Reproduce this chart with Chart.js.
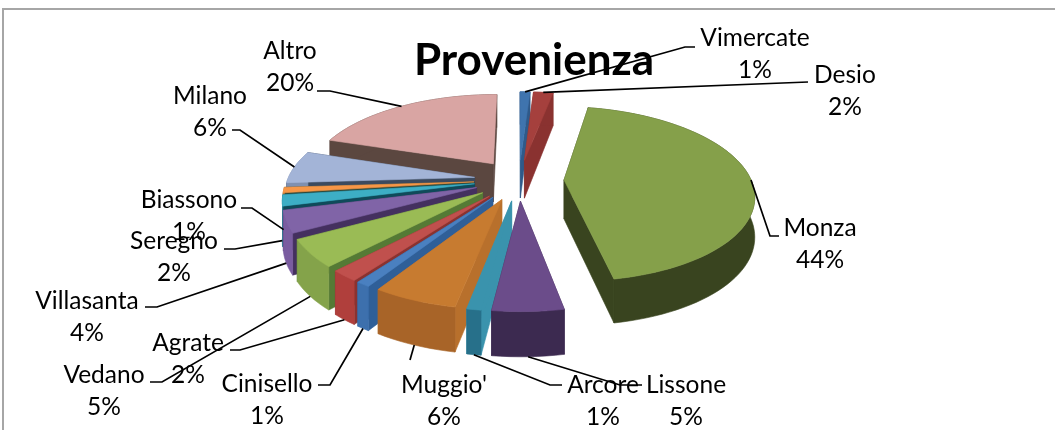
<!DOCTYPE html>
<html>
<head>
<meta charset="utf-8">
<style>
    html, body { margin: 0; padding: 0; background: #fff; overflow: hidden; }
    #wrap { position: relative; width: 1055px; height: 430px; }
</style>
<script src="https://cdn.jsdelivr.net/npm/chart.js@4"></script>
</head>
<body>
<div id="wrap"><canvas id="chart"></canvas></div>
<script>
const categories = ["Vimercate", "Desio", "Monza", "Lissone", "Arcore", "Muggio'", "Cinisello", "Agrate", "Vedano", "Villasanta", "Seregno", "Biassono", "Milano", "Altro"];
const percentages = [1, 2, 44, 5, 1, 6, 1, 2, 5, 4, 2, 1, 6, 20];

// slice colours: top face, outer wall, cut wall
const topColors = ["#3F74AE", "#A5403D", "#85A04A", "#6B4C8A", "#3A93AD", "#C77B30", "#4A80C0", "#C0504D", "#9ABB55", "#8064A7", "#3DAEC5", "#F79646", "#A3B4D7", "#D9A5A3"];
const outerColors = ["#2F5A8A", "#8A3230", "#39441F", "#3C2A50", "#27708A", "#A86428", "#3D70AD", "#B03F3C", "#84A34A", "#7A5CA0", "#2A8AA0", "#C97A36", "#7F90B0", "#5B4740"];
const cutColors = ["#2F5A8A", "#8A3230", "#39441F", "#3C2A50", "#3A93AD", "#B8702C", "#2F5F98", "#8A3230", "#557A35", "#44305F", "#0F4A5A", "#2F4A3A", "#3C4A5E", "#5B4740"];

// label centres and leader line elbows, same order as categories
const labelX = [755, 845, 820, 686, 603, 444, 267, 188, 104, 87, 174, 189, 210, 290];
const labelY = [38, 75, 228, 385, 385, 385, 384, 343, 375, 301, 241, 200, 96, 51];
const elbows = [[685, 47, 695, 47], [808, 82, 808, 82], [770, 236, 779, 236], [620, 385, 642, 385], [550, 385, 562, 385], [410, 360, 410, 360], [330, 385, 318, 385], [240, 350, 230, 350], [162, 382, 150, 382], [157, 307, 145, 307], [235, 249, 224, 249], [252, 208, 241, 208], [240, 130, 232, 130], [330, 91, 317, 91]];

// projection of the pie plane onto the page
const PERSP = 0.16, SQUASH = 0.455, DEPTH = 39, DEPTH_GROW = 5;
const SHIFT_X = -15, SHIFT_Y = 0;

function project(el, px, py) {
    const y = py / el.outerRadius;
    const w = 1 - PERSP * y;
    return {
        x: el.x + SHIFT_X + px / w,
        y: el.y + SHIFT_Y + SQUASH * py / w,
        d: DEPTH + DEPTH_GROW * y
    };
}

function arcPoints(el) {
    const e = el.options.offset / 4;
    const mid = (el.startAngle + el.endAngle) / 2;
    const ox = Math.cos(mid) * e, oy = Math.sin(mid) * e;
    const tip = project(el, ox, oy);
    const rim = [];
    const n = Math.max(2, Math.ceil((el.endAngle - el.startAngle) / 0.04));
    for (let i = 0; i <= n; i++) {
        const a = el.startAngle + (el.endAngle - el.startAngle) * i / n;
        rim.push(project(el, ox + Math.cos(a) * el.outerRadius, oy + Math.sin(a) * el.outerRadius));
    }
    return { tip, rim };
}

function fillPoly(ctx, pts, color) {
    ctx.beginPath();
    pts.forEach((p, i) => i ? ctx.lineTo(p.x, p.y) : ctx.moveTo(p.x, p.y));
    ctx.closePath();
    ctx.fillStyle = color;
    ctx.strokeStyle = color;
    ctx.lineWidth = 0.6;
    ctx.fill();
    ctx.stroke();
}

const down = p => ({ x: p.x, y: p.y + p.d });

const pie3d = {
    id: "pie3d",
    beforeDatasetsDraw(chart) {
        const ctx = chart.ctx;
        const arcs = chart.getDatasetMeta(0).data;
        const order = arcs.map((el, i) => i).sort((a, b) => {
            const ma = (arcs[a].startAngle + arcs[a].endAngle) / 2;
            const mb = (arcs[b].startAngle + arcs[b].endAngle) / 2;
            return Math.sin(ma) - Math.sin(mb);
        });
        order.forEach(i => {
            const { tip, rim } = arcPoints(arcs[i]);
            const first = rim[0], last = rim[rim.length - 1];
            fillPoly(ctx, [tip, first, down(first), down(tip)], cutColors[i]);
            fillPoly(ctx, [tip, last, down(last), down(tip)], cutColors[i]);
            fillPoly(ctx, rim.concat(rim.map(down).reverse()), outerColors[i]);
            fillPoly(ctx, [tip].concat(rim), topColors[i]);
        });

        // leader lines, then labels
        ctx.strokeStyle = "#000";
        ctx.lineWidth = 1.7;
        arcs.forEach((el, i) => {
            const e = el.options.offset / 4;
            const mid = (el.startAngle + el.endAngle) / 2;
            const r = e + el.outerRadius;
            const py = Math.sin(mid) * r;
            const p = project(el, Math.cos(mid) * r, py);
            const ax = p.x, ay = p.y + (py > 0 ? p.d : 0);
            const b = elbows[i];
            ctx.beginPath();
            ctx.moveTo(ax, ay);
            ctx.lineTo(b[0], b[1]);
            ctx.lineTo(b[2], b[3]);
            ctx.stroke();
        });

        ctx.fillStyle = "#000";
        ctx.font = "24.5px Lato";
        ctx.textAlign = "center";
        ctx.textBaseline = "middle";
        categories.forEach((name, i) => {
            ctx.fillText(name, labelX[i], labelY[i]);
            ctx.fillText(percentages[i] + "%", labelX[i], labelY[i] + 32);
        });
        return false;
    }
};

// chart border, only top and left are in frame
const frame = {
    id: "frame",
    beforeDraw(chart) {
        const ctx = chart.ctx;
        ctx.strokeStyle = "#a6a6a6";
        ctx.lineWidth = 2;
        ctx.beginPath();
        ctx.moveTo(3, 430);
        ctx.lineTo(3, 9);
        ctx.lineTo(1055, 9);
        ctx.stroke();
    }
};

new Chart(document.getElementById("chart"), {
    type: "pie",
    data: {
        labels: categories,
        datasets: [{
            data: percentages,
            backgroundColor: topColors,
            borderWidth: 0,
            offset: 180,
            radius: 187
        }]
    },
    options: {
        responsive: true,
        maintainAspectRatio: false,
        animation: false,
        layout: { padding: { left: 13, bottom: 157 } },
        plugins: {
            legend: { display: false },
            tooltip: { enabled: false },
            title: {
                display: true,
                text: "Provenienza",
                fullSize: false,
                color: "#000",
                font: { family: "Lato", size: 44, weight: "bold" },
                padding: { top: 34, bottom: 0 }
            }
        }
    },
    plugins: [frame, pie3d]
});
</script>
</body>
</html>
